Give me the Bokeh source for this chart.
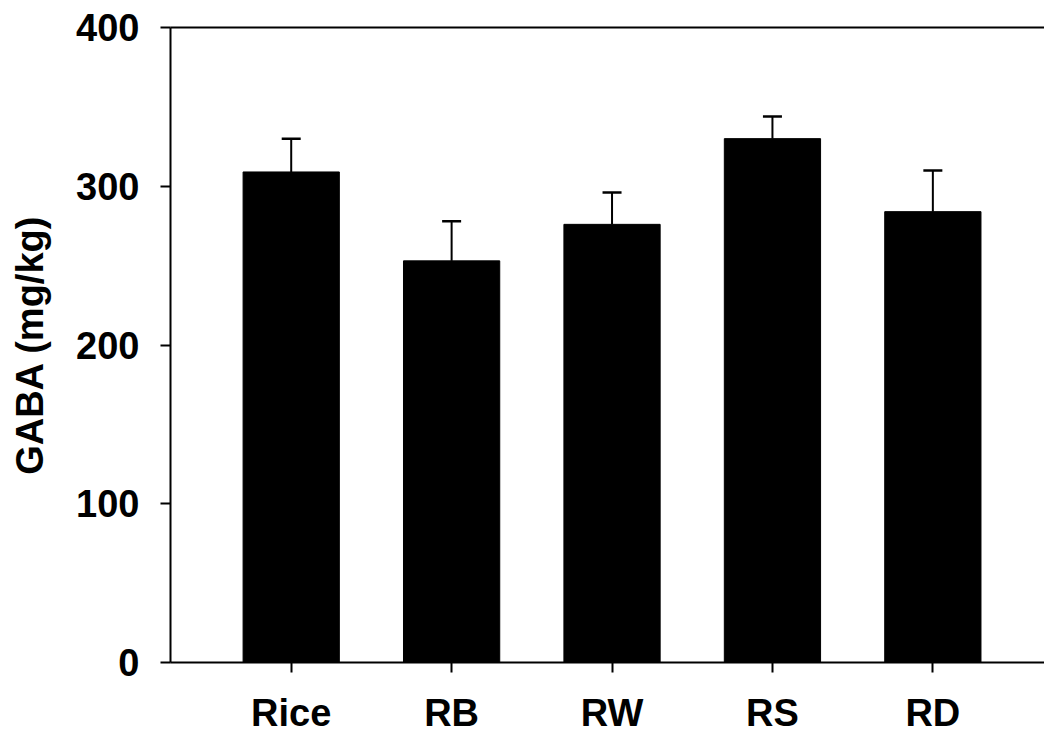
import numpy as np
from bokeh.plotting import figure
from bokeh.models import (ColumnDataSource, Range1d, FixedTicker, LinearAxis,
                          Whisker, TeeHead)
from bokeh.embed import file_html
from bokeh.resources import INLINE

# GABA content per sample (mg/kg), mean and standard deviation
categories = ["Rice", "RB", "RW", "RS", "RD"]
gaba_mean = [309, 253, 276, 330, 284]
gaba_sd = [21, 25, 20, 14, 26]
y_ticks = [0, 100, 200, 300, 400]

FONT = "Liberation Sans"

x_pos = np.arange(len(categories))
src = ColumnDataSource(dict(
    x=x_pos,
    top=gaba_mean,
    upper=[m + s for m, s in zip(gaba_mean, gaba_sd)],
))

p = figure(width=1044, height=738, output_backend="svg", toolbar_location=None,
           x_range=Range1d(-0.7525, 4.696), y_range=Range1d(0, 400),
           min_border_left=170, min_border_right=0, min_border_top=27,
           min_border_bottom=76, x_axis_type=None, y_axis_type=None)
p.outline_line_color = None
p.xgrid.visible = False
p.ygrid.visible = False
p.background_fill_color = "white"
p.border_fill_color = "white"

p.vbar(x="x", top="top", bottom=0, width=0.6, source=src,
       fill_color="black", line_color="black")

p.add_layout(Whisker(source=src, base="x", lower="top", upper="upper",
                     dimension="height", line_color="black", line_width=2,
                     lower_head=None,
                     upper_head=TeeHead(size=19, line_color="black", line_width=2.5)))

def style_axis(ax):
    ax.axis_line_color = "black"
    ax.axis_line_width = 2
    ax.major_tick_line_color = "black"
    ax.major_tick_line_width = 2
    ax.major_tick_out = 10
    ax.major_tick_in = 0
    ax.minor_tick_line_color = None
    ax.major_label_text_font = FONT
    ax.major_label_text_font_style = "bold"
    ax.major_label_text_font_size = "38px"
    ax.major_label_text_color = "black"

yaxis = LinearAxis(ticker=FixedTicker(ticks=y_ticks), axis_label="GABA (mg/kg)")
style_axis(yaxis)
yaxis.major_label_standoff = 21
yaxis.axis_label_text_font = FONT
yaxis.axis_label_text_font_style = "bold"
yaxis.axis_label_text_font_size = "38px"
yaxis.axis_label_text_color = "black"
yaxis.axis_label_standoff = 22
p.add_layout(yaxis, "left")

xaxis = LinearAxis(ticker=FixedTicker(ticks=list(x_pos)),
                   major_label_overrides={int(i): c for i, c in zip(x_pos, categories)})
style_axis(xaxis)
xaxis.major_label_standoff = 19
p.add_layout(xaxis, "below")

# top frame line
top_axis = LinearAxis(ticker=FixedTicker(ticks=[]))
top_axis.axis_line_color = "black"
top_axis.axis_line_width = 2
top_axis.major_tick_line_color = None
top_axis.minor_tick_line_color = None
top_axis.major_label_text_font_size = "0px"
p.add_layout(top_axis, "above")

open("out.html", "w").write(file_html(p, INLINE))
